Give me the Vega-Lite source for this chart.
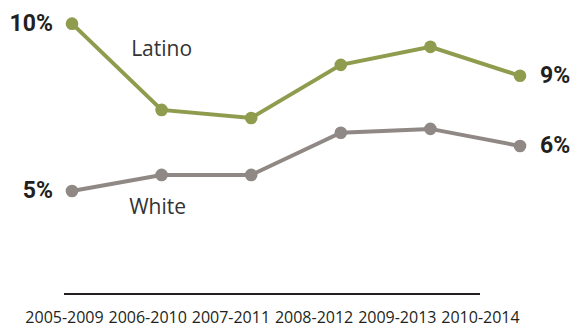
{
  "$schema": "https://vega.github.io/schema/vega-lite/v6.json",
  "width": 456,
  "height": 280,
  "autosize": {"type": "none"},
  "padding": {"left": 64, "top": 14, "right": 61, "bottom": 34},
  "background": "white",
  "config": {"view": {"stroke": null}, "font": "Open Sans"},
  "data": {
    "values": [
      {"series": "Latino", "period": "2005-2009", "value": 0.102},
      {"series": "Latino", "period": "2006-2010", "value": 0.0752},
      {"series": "Latino", "period": "2007-2011", "value": 0.0727},
      {"series": "Latino", "period": "2008-2012", "value": 0.0892},
      {"series": "Latino", "period": "2009-2013", "value": 0.0948},
      {"series": "Latino", "period": "2010-2014", "value": 0.0858},
      {"series": "White", "period": "2005-2009", "value": 0.050},
      {"series": "White", "period": "2006-2010", "value": 0.055},
      {"series": "White", "period": "2007-2011", "value": 0.055},
      {"series": "White", "period": "2008-2012", "value": 0.0681},
      {"series": "White", "period": "2009-2013", "value": 0.0693},
      {"series": "White", "period": "2010-2014", "value": 0.0640}
    ]
  },
  "layer": [
    {
      "encoding": {
        "x": {"field": "period", "type": "ordinal", "scale": {"type": "point", "padding": 0.04464, "align": 1}, "axis": null},
        "y": {"field": "value", "type": "quantitative", "scale": {"domain": [0.018, 0.105], "nice": false, "zero": false}, "axis": null}
      },
      "layer": [
        {
          "mark": {"type": "line", "strokeWidth": 4},
          "encoding": {"color": {"field": "series", "type": "nominal", "scale": {"domain": ["Latino", "White"], "range": ["#8f9c4e", "#8f8884"]}, "legend": null}}
        },
        {
          "mark": {"type": "point", "filled": true, "opacity": 1, "size": 160},
          "encoding": {"color": {"field": "series", "type": "nominal", "scale": {"domain": ["Latino", "White"], "range": ["#8f9c4e", "#8f8884"]}, "legend": null}}
        },
        {
          "transform": [{"filter": "datum.period == '2005-2009'"}],
          "mark": {"type": "text", "align": "right", "baseline": "middle", "dx": -19, "fontSize": 23, "fontWeight": "bold", "font": "Roboto", "color": "#231f20"},
          "encoding": {"text": {"field": "value", "type": "quantitative", "format": ".0%"}}
        },
        {
          "transform": [{"filter": "datum.period == '2010-2014'"}],
          "mark": {"type": "text", "align": "left", "baseline": "middle", "dx": 20, "fontSize": 23, "fontWeight": "bold", "font": "Roboto", "color": "#231f20"},
          "encoding": {"text": {"field": "value", "type": "quantitative", "format": ".0%"}}
        },
        {
          "transform": [{"filter": "datum.period == '2006-2010' && datum.series == 'Latino'"}],
          "mark": {"type": "text", "align": "center", "baseline": "middle", "dy": -60, "fontSize": 21, "color": "#333333"},
          "encoding": {"text": {"field": "series", "type": "nominal"}}
        },
        {
          "transform": [{"filter": "datum.period == '2006-2010' && datum.series == 'White'"}],
          "mark": {"type": "text", "align": "center", "baseline": "middle", "dx": -4, "dy": 33, "fontSize": 21, "color": "#333333"},
          "encoding": {"text": {"field": "series", "type": "nominal"}}
        }
      ]
    },
    {
      "transform": [{"filter": "datum.period == '2005-2009' && datum.series == 'Latino'"}],
      "mark": {"type": "rule", "color": "#231f20", "strokeWidth": 2},
      "encoding": {
        "x": {"field": "period", "type": "ordinal", "scale": {"type": "point", "padding": 0.2404, "align": 0, "domain": ["2005-2009", "2006-2010", "2007-2011", "2008-2012", "2009-2013", "2010-2014"]}, "axis": {"orient": "bottom", "title": null, "domain": false, "ticks": false, "labelAngle": 0, "labelFontSize": 16, "labelColor": "#231f20", "labelPadding": 15, "labelFont": "Open Sans"}},
        "x2": {"datum": "2010-2014"},
        "y": {"datum": 0.018}
      }
    }
  ],
  "resolve": {"scale": {"x": "independent"}}
}
